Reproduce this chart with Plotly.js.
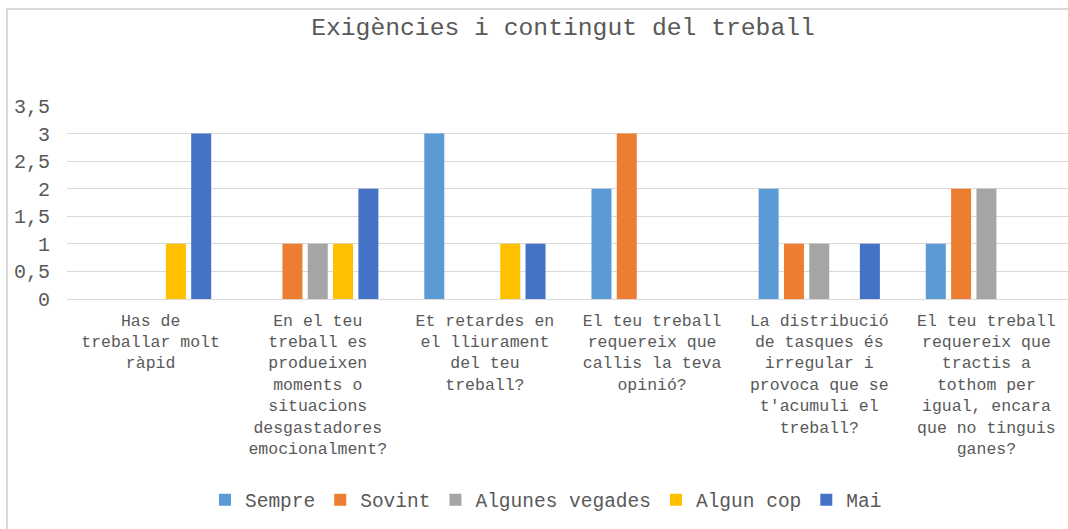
<!DOCTYPE html>
<html>
<head>
<meta charset="utf-8">
<script src="https://cdn.plot.ly/plotly-3.0.1.min.js"></script>
<style>
  html, body { margin: 0; padding: 0; width: 1068px; height: 529px; overflow: hidden; background: #fff; }
  #chart { position: absolute; left: 0; top: 0; }
  #frame { position: absolute; left: 6px; top: 8px; width: 1200px; height: 600px;
           border-left: 2px solid #d9d9d9; border-top: 2px solid #d9d9d9; pointer-events: none; }
</style>
</head>
<body>
<div id="chart"></div>
<div id="frame"></div>
<script>
const categories = [
  "Has de<br>treballar molt<br>ràpid",
  "En el teu<br>treball es<br>produeixen<br>moments o<br>situacions<br>desgastadores<br>emocionalment?",
  "Et retardes en<br>el lliurament<br>del teu<br>treball?",
  "El teu treball<br>requereix que<br>callis la teva<br>opinió?",
  "La distribució<br>de tasques és<br>irregular i<br>provoca que se<br>t'acumuli el<br>treball?",
  "El teu treball<br>requereix que<br>tractis a<br>tothom per<br>igual, encara<br>que no tinguis<br>ganes?"
];
const seriesNames = ["Sempre", "Sovint", "Algunes vegades", "Algun cop", "Mai"];
const sempre         = [0, 0, 3, 2, 2, 1];
const sovint         = [0, 1, 0, 3, 1, 2];
const algunesVegades = [0, 1, 0, 0, 1, 2];
const algunCop       = [1, 1, 1, 0, 0, 0];
const mai            = [3, 2, 1, 0, 1, 0];
const yTicks = [0, 0.5, 1, 1.5, 2, 2.5, 3, 3.5];

const colors = ["#5B9BD5", "#ED7D31", "#A5A5A5", "#FFC000", "#4472C4"];
const values = [sempre, sovint, algunesVegades, algunCop, mai];

const FONT = "'Liberation Mono', 'Courier New', monospace";
const TXT = "#595959";

const traces = values.map((v, i) => ({
  type: "bar",
  name: seriesNames[i],
  x: categories,
  y: v,
  marker: { color: colors[i], line: { width: 0 } },
  hoverinfo: "skip"
}));

const W = 1080, H = 529;
const layout = {
  width: W, height: H,
  margin: { l: 67, r: 10, t: 106, b: 230.4 },
  paper_bgcolor: "#ffffff",
  plot_bgcolor: "#ffffff",
  separators: ", ",
  barmode: "group",
  bargap: 0.243,
  bargroupgap: 0.21,
  font: { family: FONT, color: TXT, size: 18 },
  title: {
    text: "Exigències i contingut del treball",
    font: { family: FONT, size: 24.7, color: TXT },
    xref: "container", x: 563 / W, xanchor: "center",
    yref: "container", y: 1 - 26 / H, yanchor: "middle"
  },
  xaxis: {
    type: "category",
    showgrid: false, showline: false, zeroline: false,
    ticks: "", tickangle: 0,
    ticklabelstandoff: 9,
    tickfont: { family: FONT, size: 16.5, color: TXT },
    fixedrange: true
  },
  yaxis: {
    range: [0, 3.5],
    tickvals: yTicks,
    tickformat: ".1~f",
    showgrid: true, gridcolor: "#d9d9d9", gridwidth: 1,
    zeroline: true, zerolinecolor: "#d9d9d9", zerolinewidth: 1,
    showline: false, ticks: "",
    ticklabelstandoff: 16,
    tickfont: { family: FONT, size: 20, color: TXT },
    fixedrange: true
  },
  showlegend: true,
  legend: {
    orientation: "h",
    x: (546 - 67) / (W - 77), xanchor: "center",
    y: (298.3 - 499) / 192.6, yanchor: "middle",
    font: { family: FONT, size: 19.5, color: TXT },
    traceorder: "normal",
    itemclick: false, itemdoubleclick: false
  },
  hovermode: false
};

Plotly.newPlot("chart", traces, layout, { displayModeBar: false, staticPlot: true });
</script>
</body>
</html>
